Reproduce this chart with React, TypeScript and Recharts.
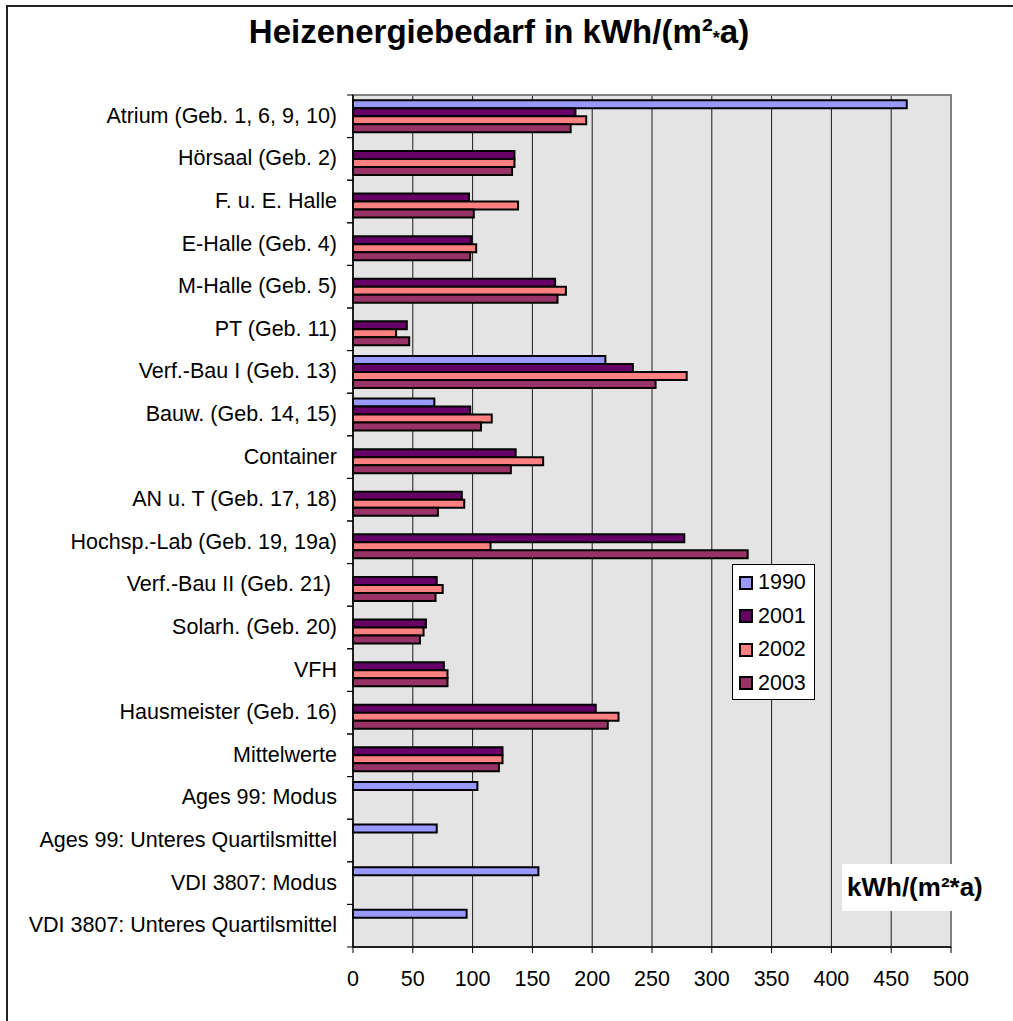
import React from "react";
import {
  BarChart,
  Bar,
  XAxis,
  YAxis,
  CartesianGrid,
  Legend,
  ReferenceArea,
} from "recharts";

const categories = [
  "Atrium (Geb. 1, 6, 9, 10)",
  "Hörsaal (Geb. 2)",
  "F. u. E. Halle",
  "E-Halle (Geb. 4)",
  "M-Halle (Geb. 5)",
  "PT (Geb. 11)",
  "Verf.-Bau I (Geb. 13)",
  "Bauw. (Geb. 14, 15)",
  "Container",
  "AN u. T (Geb. 17, 18)",
  "Hochsp.-Lab (Geb. 19, 19a)",
  "Verf.-Bau II (Geb. 21) ",
  "Solarh. (Geb. 20)",
  "VFH",
  "Hausmeister (Geb. 16)",
  "Mittelwerte",
  "Ages 99: Modus",
  "Ages 99: Unteres Quartilsmittel",
  "VDI 3807: Modus",
  "VDI 3807: Unteres Quartilsmittel",
];

const values1990 = [463, null, null, null, null, null, 211, 68, null, null, null, null, null, null, null, null, 104, 70, 155, 95];
const values2001 = [186, 135, 97, 99, 169, 45, 234, 98, 136, 91, 277, 70, 61, 76, 203, 125, null, null, null, null];
const values2002 = [195, 135, 138, 103, 178, 36, 279, 116, 159, 93, 115, 75, 59, 79, 222, 125, null, null, null, null];
const values2003 = [182, 133, 101, 98, 171, 47, 253, 107, 132, 71, 330, 69, 56, 79, 213, 122, null, null, null, null];

const xTicks = [0, 50, 100, 150, 200, 250, 300, 350, 400, 450, 500];

const series = [
  { key: "y1990", name: "1990", color: "#9999ff" },
  { key: "y2001", name: "2001", color: "#660066" },
  { key: "y2002", name: "2002", color: "#ff8080" },
  { key: "y2003", name: "2003", color: "#993366" },
];

const data = categories.map((name, i) => ({
  name,
  y1990: values1990[i],
  y2001: values2001[i],
  y2002: values2002[i],
  y2003: values2003[i],
}));

const FONT = '"Liberation Sans", Arial, sans-serif';
const W = 1013;
const H = 1021;
const MARGIN = { top: 95, right: 62, bottom: 34, left: 13 };
const Y_WIDTH = 340;
const X_HEIGHT = 40;
const Y_TICK_SIZE = 6;
const Y_TICK_MARGIN = 10;
const PLOT_H = H - MARGIN.top - MARGIN.bottom - X_HEIGHT;
const BAND = PLOT_H / categories.length;

// y ticks sit between the categories, labels in the middle
function CategoryTick(props: any) {
  const { x, y, payload } = props;
  const ax = x + Y_TICK_MARGIN + Y_TICK_SIZE;
  const half = BAND / 2;
  return (
    <g>
      <line x1={ax - 6} x2={ax} y1={y - half} y2={y - half} stroke="#000" strokeWidth={1} />
      <line x1={ax - 6} x2={ax} y1={y + half} y2={y + half} stroke="#000" strokeWidth={1} />
      <text
        x={x}
        y={y}
        dy="0.3em"
        textAnchor="end"
        fontSize={21.5}
        fontFamily={FONT}
        fill="#000"
        style={{ whiteSpace: "pre" }}
      >
        {payload.value}
      </text>
    </g>
  );
}

function LegendBox({ payload }: any) {
  const items = payload && payload.length ? payload : series.map((s) => ({ value: s.name, color: s.color }));
  return (
    <div
      style={{
        background: "#fff",
        border: "1px solid #000",
        paddingTop: 1,
        width: 81,
        height: 133,
        boxSizing: "content-box",
      }}
    >
      {items.map((it: any) => (
        <div
          key={it.value}
          style={{ height: 33.5, display: "flex", alignItems: "center", paddingLeft: 6 }}
        >
          <span
            style={{
              display: "inline-block",
              width: 14,
              height: 14,
              boxSizing: "border-box",
              border: "2px solid #000",
              background: it.color,
              marginRight: 5,
            }}
          />
          <span style={{ fontSize: 21.5, fontFamily: FONT, color: "#000", lineHeight: "21px" }}>
            {it.value}
          </span>
        </div>
      ))}
    </div>
  );
}

export default function App() {
  return (
    <div
      style={{
        position: "absolute",
        left: 0,
        top: 0,
        width: W,
        height: H,
        overflow: "hidden",
        background: "#fff",
        fontFamily: FONT,
      }}
    >
      <div
        style={{
          position: "absolute",
          left: 6,
          top: 5,
          width: 1030,
          height: 1040,
          border: "2px solid #222",
        }}
      />
      <div
        style={{
          position: "absolute",
          left: 0,
          top: 16,
          width: 998,
          textAlign: "center",
          fontSize: 33,
          lineHeight: "32px",
          fontWeight: "bold",
          color: "#000",
        }}
      >
        Heizenergiebedarf in kWh/(m²
        <span style={{ fontSize: "0.55em", verticalAlign: "-0.05em" }}>*</span>
        a)
      </div>
      <div style={{ position: "absolute", left: 0, top: 0 }}>
        <BarChart
          width={W}
          height={H}
          data={data}
          layout="vertical"
          margin={MARGIN}
          barCategoryGap="12.5%"
          barGap={0}
        >
          <CartesianGrid
            horizontal={false}
            vertical={true}
            stroke="#1a1a1a"
            strokeWidth={1}
            fill="#e4e4e4"
            fillOpacity={1}
          />
          <ReferenceArea
            x1={0}
            x2={500}
            fill="none"
            stroke="#808080"
            strokeWidth={2}
            ifOverflow="visible"
          />
          <XAxis
            type="number"
            domain={[0, 500]}
            ticks={xTicks}
            interval={0}
            height={X_HEIGHT}
            tickSize={6}
            tickMargin={18}
            axisLine={{ stroke: "#000", strokeWidth: 1.5 }}
            tickLine={{ stroke: "#000" }}
            tick={{ fontSize: 21.5, fill: "#000", fontFamily: FONT }}
          />
          <YAxis
            type="category"
            dataKey="name"
            width={Y_WIDTH}
            interval={0}
            tickSize={Y_TICK_SIZE}
            tickMargin={Y_TICK_MARGIN}
            tickLine={false}
            axisLine={{ stroke: "#000", strokeWidth: 1.5 }}
            tick={<CategoryTick />}
          />
          <Legend
            layout="vertical"
            align="center"
            verticalAlign="middle"
            content={<LegendBox />}
            wrapperStyle={{ position: "absolute", left: 732, top: 564, width: 83, height: 135 }}
          />
          {series.map((s) => (
            <Bar
              key={s.key}
              dataKey={s.key}
              name={s.name}
              fill={s.color}
              stroke="#000"
              strokeWidth={2}
              legendType="square"
              isAnimationActive={false}
            />
          ))}
        </BarChart>
      </div>
      <div
        style={{
          position: "absolute",
          left: 842,
          top: 864,
          width: 150,
          height: 47,
          background: "#fff",
          paddingLeft: 5,
          boxSizing: "border-box",
          fontSize: 26,
          lineHeight: "47px",
          fontWeight: "bold",
          color: "#000",
          whiteSpace: "nowrap",
        }}
      >
        kWh/(m²*a)
      </div>
    </div>
  );
}
